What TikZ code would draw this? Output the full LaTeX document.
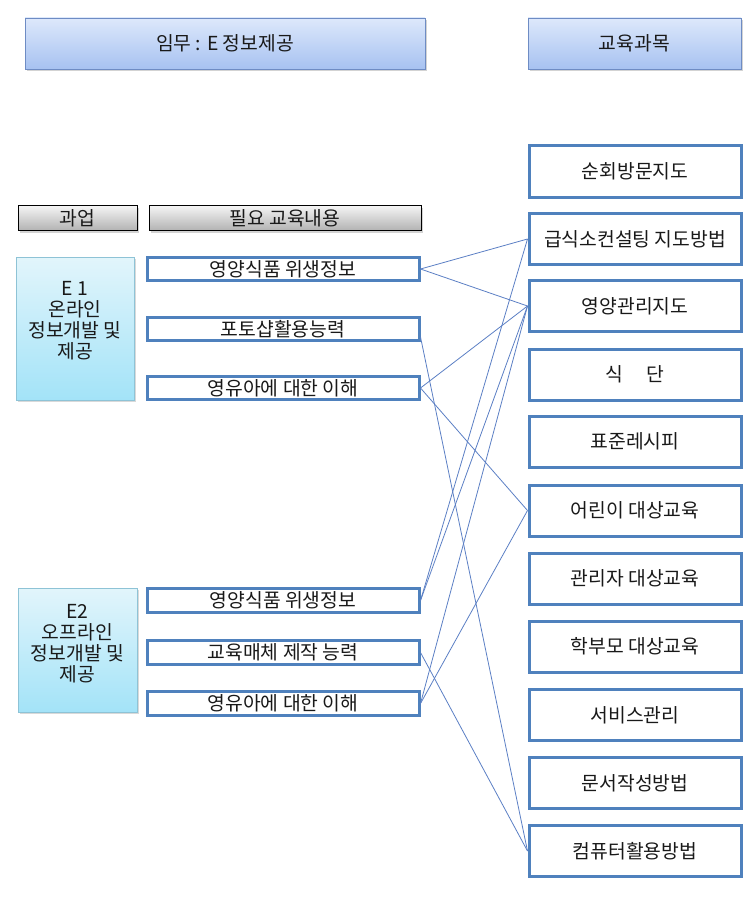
\documentclass[tikz,border=0pt]{standalone}
\usepackage{fontspec}
\setmainfont{Noto Sans CJK KR}
\usetikzlibrary{shadows}
\definecolor{itemblue}{HTML}{4F81BD}
\definecolor{linkblue}{HTML}{5B7FC4}
\definecolor{headtop}{HTML}{DDE8FB}
\definecolor{headbot}{HTML}{A7C2F1}
\definecolor{headline}{HTML}{6E8CC4}
\definecolor{tasktop}{HTML}{E2F5FB}
\definecolor{taskbot}{HTML}{A3E3F8}
\definecolor{taskline}{HTML}{8EC3D6}
\tikzset{
  every node/.style={font=\fontsize{19.3}{21}\selectfont, inner sep=0pt, text=black!90},
  headbox/.style={draw=headline, line width=0.7pt, top color=headtop, bottom color=headbot,
    drop shadow={shadow xshift=1.5pt, shadow yshift=-2pt, opacity=0.35}},
  graybox/.style={draw=black, line width=0.9pt, top color=white!96!black, bottom color=black!30,
    drop shadow={shadow xshift=1.5pt, shadow yshift=-2pt, opacity=0.35}},
  taskbox/.style={draw=taskline, line width=0.7pt, top color=tasktop, bottom color=taskbot,
    drop shadow={shadow xshift=1.5pt, shadow yshift=-2pt, opacity=0.3}},
  tasktext/.style={align=center},
  itembox/.style={draw=itemblue, line width=3pt, fill=white, minimum width=272pt, minimum height=23.5pt},
  rightbox/.style={draw=itemblue, line width=3pt, fill=white, minimum width=212pt, minimum height=51pt},
  link/.style={draw=linkblue, line width=0.8pt}
}
\begin{document}
\begin{tikzpicture}[x=1pt,y=-1pt]
\useasboundingbox (0,0) rectangle (753,904);
% headers
\node[headbox, minimum width=400pt, minimum height=51pt] (h1) at (225,43.5) {임무 : E 정보제공};
\node[headbox, minimum width=213pt, minimum height=51pt] (h2) at (634.5,43.5) {교육과목};
\node[graybox, minimum width=119pt, minimum height=25pt] (g1) at (77.5,218) {과업};
\node[graybox, minimum width=272pt, minimum height=25pt] (g2) at (285,218) {필요 교육내용};
% task boxes
\node[taskbox, minimum width=118pt, minimum height=143pt] (e1) at (75,328.5) {};
\node[tasktext] (e1t) at ([yshift=8pt]e1.center) {E 1\\온라인\\정보개발 및\\제공};
\node[taskbox, minimum width=119pt, minimum height=124pt] (e2) at (77.5,650) {};
\node[tasktext] (e2t) at ([yshift=6pt]e2.center) {E2\\오프라인\\정보개발 및\\제공};
% left items
\node[itembox] (l1) at (283,269) {영양식품 위생정보};
\node[itembox] (l2) at (283,329) {포토샵활용능력};
\node[itembox] (l3) at (283,388) {영유아에 대한 이해};
\node[itembox] (l4) at (283,600.5) {영양식품 위생정보};
\node[itembox] (l5) at (283,652.5) {교육매체 제작 능력};
\node[itembox] (l6) at (283,703.5) {영유아에 대한 이해};
% right items
\node[rightbox] (r1) at (635,171.5) {순회방문지도};
\node[rightbox] (r2) at (635,239) {급식소컨설팅 지도방법};
\node[rightbox] (r3) at (635,306) {영양관리지도};
\node[rightbox] (r4) at (635,374.5) {식\hspace{1.2em}단};
\node[rightbox] (r5) at (635,441.5) {표준레시피};
\node[rightbox] (r6) at (635,510.5) {어린이 대상교육};
\node[rightbox] (r7) at (635,578.5) {관리자 대상교육};
\node[rightbox] (r8) at (635,646.5) {학부모 대상교육};
\node[rightbox] (r9) at (635,715) {서비스관리};
\node[rightbox] (r10) at (635,783) {문서작성방법};
\node[rightbox] (r11) at (635,851) {컴퓨터활용방법};
% connectors
\draw[link] (l1.east) -- (r2.west);
\draw[link] (l1.east) -- (r3.west);
\draw[link] ([yshift=-8pt]l2.east) -- (r11.west);
\draw[link] (l3.east) -- (r3.west);
\draw[link] (l3.east) -- (r6.west);
\draw[link] (l4.east) -- (r2.west);
\draw[link] (l4.east) -- (r3.west);
\draw[link] (l5.east) -- (r11.west);
\draw[link] (l6.east) -- (r3.west);
\draw[link] (l6.east) -- (r6.west);
\end{tikzpicture}
\end{document}
